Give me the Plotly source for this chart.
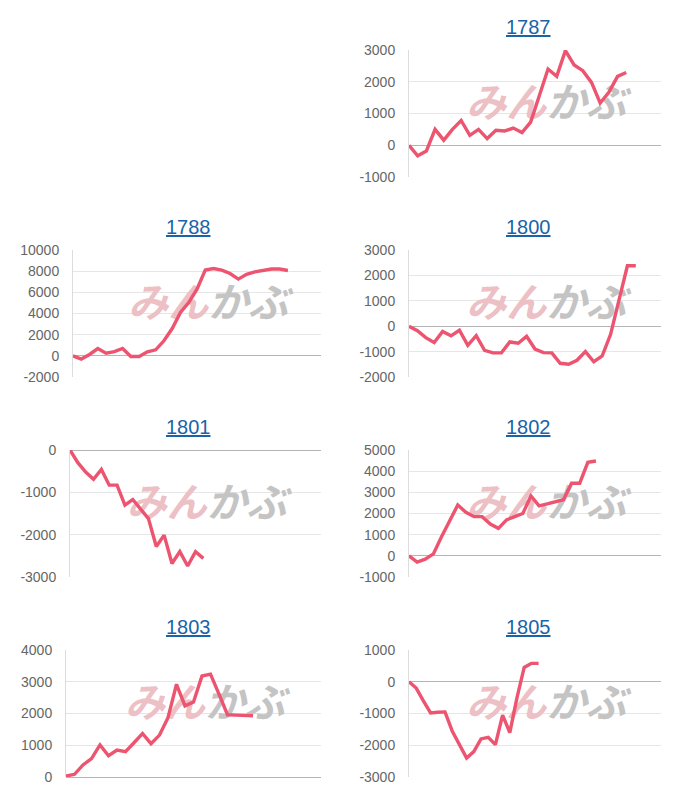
import plotly.graph_objects as go

# ---- data -------------------------------------------------------------
TITLES = ["1787", "1788", "1800", "1801", "1802", "1803", "1805"]

V1787 = [0, -330, -180, 500, 160, 500, 780, 310, 500, 210, 470, 450, 540, 400,
         730, 1560, 2400, 2170, 2980, 2530, 2350, 1980, 1330, 1670, 2170, 2290]
V1788 = [0, -300, 130, 690, 250, 400, 690, -60, -60, 380, 570, 1420, 2580, 4100,
         5040, 6300, 8100, 8250, 8100, 7780, 7250, 7700, 7940, 8030, 8200, 8200, 8060]
V1800 = [0, -180, -450, -640, -210, -380, -160, -750, -370, -950, -1050, -1050,
         -620, -670, -400, -900, -1040, -1050, -1460, -1500, -1340, -1000, -1400,
         -1170, -320, 1000, 2380, 2380]
V1801 = [0, -300, -520, -690, -460, -830, -830, -1300, -1170, -1380, -1620, -2280,
         -2010, -2680, -2400, -2740, -2400, -2560]
V1802 = [0, -300, -160, 90, 900, 1650, 2400, 2060, 1850, 1850, 1500, 1300, 1700,
         1850, 2000, 2830, 2360, 2450, 2560, 2650, 3430, 3430, 4420, 4480]
V1803 = [30, 85, 380, 580, 1010, 670, 850, 800, 1080, 1370, 1050, 1320, 1870, 2920,
         2240, 2360, 3180, 3240, 2610, 1960, 1950, 1950, 1930]
V1805 = [0, -200, -600, -980, -960, -950, -1550, -2000, -2400, -2200, -1800, -1750,
         -1980, -1050, -1600, -500, 450, 580, 580]

SERIES = [V1787, V1788, V1800, V1801, V1802, V1803, V1805]
N_LABELS = [30, 31, 31, 33, 32, 31, 36]
Y_MIN = [-1000, -2000, -2000, -3000, -1000, 0, -3000]
Y_MAX = [3000, 10000, 3000, 0, 5000, 4000, 1000]
Y_STEP = [1000, 2000, 1000, 1000, 1000, 1000, 1000]

# ---- layout geometry (pixels) -----------------------------------------
W, H = 700, 800
ROW = [0, 1, 1, 2, 2, 3, 3]
PLOT_LEFT = [409, 73, 409, 70, 409, 66, 409]
PLOT_RIGHT = [661, 321, 661, 321, 661, 321, 661]
TITLE_X = [528, 188, 528, 188, 528, 188, 528]

LINE_COLOR = "#ec5470"
GRID = "#e6e6e6"
ZERO = "#b5b5b5"
TICK_FONT = dict(family="Liberation Sans, Arial, sans-serif", size=14, color="#666666")
WATERMARK = ('<b><i><span style="color:#ecc0c4">みん</span>'
             '<span style="color:#c4c4c4">かぶ</span></i></b>')

fig = go.Figure()
annotations = []

for i, (title, vals) in enumerate(zip(TITLES, SERIES)):
    k = "" if i == 0 else str(i + 1)
    top = 200 * ROW[i] + 50
    bot = 200 * ROW[i] + 177
    xd = [PLOT_LEFT[i] / W, PLOT_RIGHT[i] / W]
    yd = [1 - bot / H, 1 - top / H]
    tickvals = list(range(Y_MIN[i], Y_MAX[i] + Y_STEP[i], Y_STEP[i]))

    # watermark drawn first so the line sits on top of it
    fig.add_trace(go.Scatter(
        x=[0.545 * (N_LABELS[i] - 1)],
        y=[Y_MIN[i] + 0.55 * (Y_MAX[i] - Y_MIN[i])],
        mode="text", text=[WATERMARK], textposition="middle center",
        textfont=dict(family="Noto Sans CJK JP", size=40),
        xaxis="x" + k, yaxis="y" + k, hoverinfo="skip", showlegend=False,
        cliponaxis=False,
    ))

    fig.add_trace(go.Scatter(
        x=list(range(len(vals))), y=vals, mode="lines",
        line=dict(color=LINE_COLOR, width=3.4),
        xaxis="x" + k, yaxis="y" + k, hoverinfo="skip", showlegend=False,
    ))

    fig.update_layout(**{
        "xaxis" + k: dict(domain=xd, range=[0, N_LABELS[i] - 1], anchor="y" + k,
                          showgrid=False, zeroline=False, showticklabels=False,
                          showline=False, ticks="", fixedrange=True,
                          automargin=False),
        "yaxis" + k: dict(domain=yd, range=[Y_MIN[i], Y_MAX[i]], anchor="x" + k,
                          tickmode="array", tickvals=tickvals,
                          ticktext=[str(v) for v in tickvals],
                          showgrid=True, gridcolor=GRID,
                          gridwidth=1, zeroline=True, zerolinecolor=ZERO,
                          zerolinewidth=1, showline=True, linecolor="#dcdcdc",
                          linewidth=1, ticks="outside", ticklen=10,
                          tickcolor="rgba(0,0,0,0)", tickfont=TICK_FONT,
                          fixedrange=True, automargin=False),
    })

    # title (underlined link style)
    annotations.append(dict(
        text='<span style="text-decoration:underline">' + title + "</span>",
        x=TITLE_X[i] / W, y=1 - (200 * ROW[i] + 27) / H, xref="paper", yref="paper",
        showarrow=False, xanchor="center", yanchor="middle",
        font=dict(family="Liberation Sans, Arial, sans-serif", size=20, color="#1a63a8"),
    ))

fig.update_layout(
    width=W, height=H, margin=dict(l=0, r=0, t=0, b=0, pad=0, autoexpand=False),
    paper_bgcolor="white", plot_bgcolor="white",
    annotations=annotations, showlegend=False,
)

fig.write_html("out.html")
